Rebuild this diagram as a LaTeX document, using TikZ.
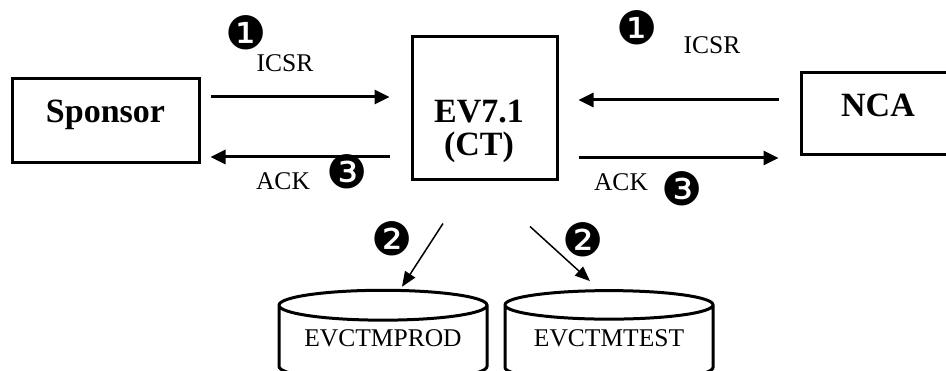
\documentclass[tikz,border=0pt]{standalone}
\usepackage{fontspec}
\setmainfont{Liberation Serif}
\newfontfamily\dingfont{DejaVu Sans}
\usetikzlibrary{shapes.geometric,arrows.meta,calc}

\tikzset{
  blk/.style={draw, line width=3pt, inner sep=0pt, font=\bfseries\fontsize{34}{33}\selectfont},
  flow/.style={line width=3pt, -{Triangle[length=15pt,width=14pt]}},
  thinflow/.style={line width=1.5pt, -{Triangle[length=15pt,width=12pt]}},
  store/.style={draw, line width=3pt, cylinder, shape border rotate=90, aspect=0.19,
    minimum width=208pt, minimum height=91pt, inner sep=0pt, text height=23pt, text depth=17pt,
    font=\fontsize{25.5}{30}\selectfont},
  msg/.style={font=\fontsize{25.5}{30}\selectfont},
  stepnum/.style={font=\dingfont\fontsize{46}{50}\selectfont}
}

\begin{document}
\begin{tikzpicture}[x=1pt,y=-1pt]
\clip (0,0) rectangle (946,371);
% the three systems
\node[blk, minimum width=187pt, text height=44pt, text depth=40pt] (sponsor) at (105.5,121) {Sponsor};
\node[blk, minimum width=145pt, minimum height=143pt] (ev) at (484.5,108.5) {};
\node[font=\bfseries\fontsize{34}{33}\selectfont, align=center] (evtxt) at (479,131) {EV7.1\\(CT)};
\node[blk, minimum width=154pt, text height=44pt, text depth=38pt] (nca) at (878,114) {NCA};
% databases
\node[store] (prod) at (383,344) {EVCTMPROD};
\node[store] (test) at (609,344) {EVCTMTEST};

% messages
\draw[flow] ($(sponsor.east)+(10,-24)$) -- ($(ev.west)+(-21,-11.5)$);
\draw[flow] ($(ev.west)+(-21,48.5)$) -- ($(sponsor.east)+(10,36)$);
\draw[flow] ($(nca.west)+(-21,-14)$) -- ($(ev.east)+(20,-8.5)$);
\draw[flow] ($(ev.east)+(20,49.5)$) -- ($(nca.west)+(-21,44)$);
\draw[thinflow] ($(ev.south)+(-41.5,42)$) -- ($(prod.north)+(19,-2)$);
\draw[thinflow] ($(ev.south)+(45.5,45)$) -- ($(test.north)+(-19,-8)$);

% labels
\node[stepnum] (n1l) at (246,33) {❶};
\node[msg] (icsrl) at (285,63) {ICSR};
\node[stepnum] (n1r) at (637,28) {❶};
\node[msg] (icsrr) at (712,45) {ICSR};
\node[msg] (ackl) at (283,181) {ACK};
\node[stepnum] (n3l) at (347,172) {❸};
\node[msg] (ackr) at (621,182) {ACK};
\node[stepnum] (n3r) at (682,189) {❸};
\node[stepnum] (n2l) at (392,239) {❷};
\node[stepnum] (n2r) at (583,240) {❷};
\end{tikzpicture}
\end{document}
